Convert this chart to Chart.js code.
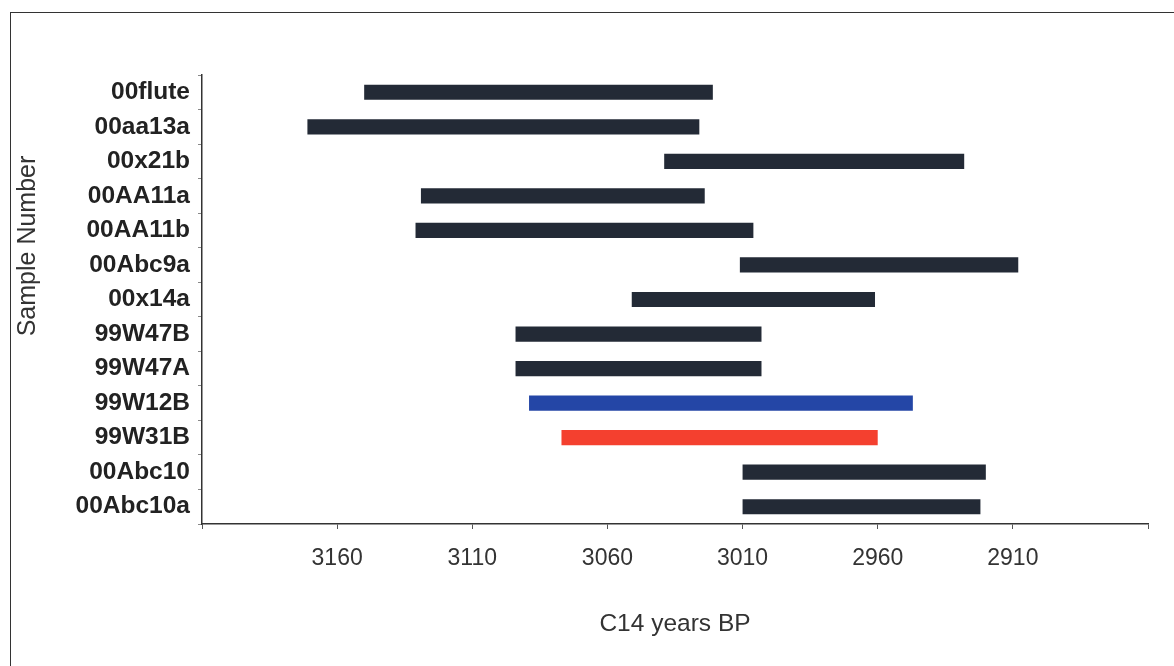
<!DOCTYPE html>
<html>
<head>
<meta charset="utf-8">
<script src="https://cdn.jsdelivr.net/npm/chart.js@4"></script>
<style>
  html, body { margin: 0; padding: 0; background: #fff; overflow: hidden; }
  #wrap { position: relative; width: 1174px; height: 666px; }
  #frame { position: absolute; left: 10px; top: 12px; width: 1200px; height: 700px;
           border: 1.5px solid #333; box-sizing: border-box; }
  #ytitle { position: absolute; left: 26px; top: 246px; transform: translate(-50%, -50%) rotate(-90deg);
            font-family: "Liberation Sans", Arial, sans-serif; font-size: 25px; color: #333; white-space: nowrap; }
</style>
</head>
<body>
<div id="wrap">
  <div id="frame"></div>
  <canvas id="myChart" width="1174" height="666"></canvas>
  <div id="ytitle">Sample Number</div>
</div>
<script>
// sample names, top to bottom
var samples = ['00flute', '00aa13a', '00x21b', '00AA11a', '00AA11b', '00Abc9a', '00x14a',
               '99W47B', '99W47A', '99W12B', '99W31B', '00Abc10', '00Abc10a'];
// C14 years BP range (older end, younger end)
var rangeStart = [3150, 3171, 3039, 3129, 3131, 3011, 3051, 3094, 3094, 3089, 3077, 3010, 3010];
var rangeEnd   = [3021, 3026, 2928, 3024, 3006, 2908, 2961, 3003, 3003, 2947, 2960, 2920, 2922];
var barColors  = ['#232a36', '#232a36', '#232a36', '#232a36', '#232a36', '#232a36', '#232a36',
                  '#232a36', '#232a36', '#2446a6', '#f4402f', '#232a36', '#232a36'];
// axis
var axisMin = 2860, axisMax = 3210, axisStep = 50;
var tickLabels = ['3160', '3110', '3060', '3010', '2960', '2910'];

var ranges = samples.map(function (s, i) { return [rangeStart[i], rangeEnd[i]]; });

var ctx = document.getElementById('myChart').getContext('2d');
var chart = new Chart(ctx, {
    type: 'bar',
    data: {
        labels: samples,
        datasets: [{
            data: ranges,
            backgroundColor: barColors,
            borderWidth: 0,
            borderSkipped: false,
            barPercentage: 0.44,
            categoryPercentage: 1
        }]
    },
    options: {
        indexAxis: 'y',
        responsive: false,
        animation: false,
        layout: { padding: { left: 0, right: 26, top: 75, bottom: 0 } },
        plugins: { legend: { display: false }, tooltip: { enabled: false } },
        scales: {
            x: {
                type: 'linear',
                reverse: true,
                min: axisMin,
                max: axisMax,
                afterBuildTicks: function (scale) {
                    var t = [];
                    for (var v = axisMin; v <= axisMax; v += axisStep) t.push({ value: v });
                    scale.ticks = t;
                },
                afterFit: function (scale) { scale.height = 142; },
                border: { color: '#333', width: 1.5 },
                grid: { drawOnChartArea: false, drawTicks: true, tickLength: 5, color: '#555' },
                ticks: {
                    padding: 16,
                    color: '#333',
                    font: { family: '"Liberation Sans", Arial, sans-serif', size: 23 },
                    callback: function (v) {
                        var s = String(v);
                        return tickLabels.indexOf(s) >= 0 ? s : '';
                    }
                },
                title: {
                    display: true,
                    text: 'C14 years BP',
                    color: '#333',
                    font: { family: '"Liberation Sans", Arial, sans-serif', size: 24.5 },
                    padding: { top: 0, bottom: 27 }
                }
            },
            y: {
                afterFit: function (scale) { scale.width = 202; },
                border: { color: '#333', width: 1.5 },
                grid: { drawOnChartArea: false, drawTicks: true, tickLength: 4, color: '#888', offset: true },
                ticks: {
                    padding: 8,
                    color: '#222',
                    font: { family: '"Liberation Sans", Arial, sans-serif', size: 24.5, weight: 'bold' }
                }
            }
        }
    }
});
</script>
</body>
</html>
